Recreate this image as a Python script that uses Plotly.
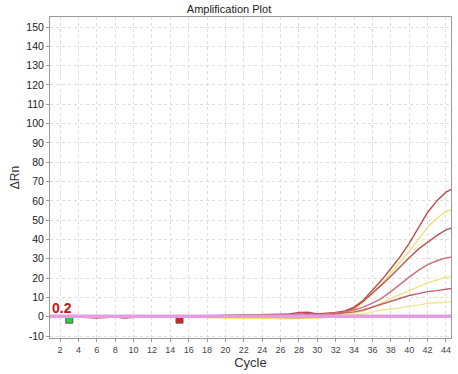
import plotly.graph_objects as go

cycles = list(range(1, 46))

curve_a = [0.3, 0.2, 0.1, 0.0, -0.2, -0.5, -0.3, -0.1, -0.4, -0.2, 0.0, 0.1, 0.2, 0.1, 0.0,
           0.2, 0.3, 0.4, 0.5, 0.6, 0.8, 1.0, 1.2, 1.3, 1.2, 1.3, 1.5, 2.2, 2.4, 1.5,
           1.8, 2.2, 3.0, 5.0, 8.5, 13.5, 19.0, 25.0, 31.0, 38.0, 46.0, 54.0, 60.0, 64.5, 67.0]
curve_b = [0.1, 0.0, -0.1, 0.0, 0.1, -0.2, 0.0, 0.2, 0.0, -0.1, 0.0, 0.0, 0.1, 0.0, -0.1,
           0.0, -0.2, -0.3, -0.2, -0.4, -0.5, -0.6, -0.8, -0.9, -1.0, -0.9, -1.0, -0.8, -0.9, -0.7,
           -0.4, 0.3, 2.0, 4.0, 7.5, 12.0, 17.0, 22.5, 28.0, 34.0, 40.0, 46.5, 51.0, 54.5, 56.0]
curve_c = [0.0, 0.1, 0.0, -0.1, -0.3, -0.7, -0.4, -0.2, -0.6, -0.3, 0.0, 0.1, 0.0, 0.2, 0.1,
           0.3, 0.4, 0.5, 0.6, 0.7, 0.9, 1.1, 1.0, 0.9, 0.8, 1.0, 1.2, 1.4, 1.6, 1.2,
           1.5, 1.9, 2.5, 4.5, 8.0, 12.0, 16.5, 21.0, 26.0, 30.5, 35.0, 38.5, 42.0, 45.0, 46.5]
curve_d = [0.2, 0.1, 0.0, 0.0, -0.1, -0.3, -0.2, 0.0, -0.2, -0.1, 0.0, 0.1, 0.1, 0.0, 0.1,
           0.2, 0.2, 0.3, 0.3, 0.2, 0.4, 0.5, 0.4, 0.3, 0.4, 0.6, 0.8, 0.9, 1.0, 1.0,
           1.5, 2.0, 2.5, 3.5, 5.0, 7.0, 9.5, 13.0, 17.0, 20.5, 24.0, 27.0, 29.0, 30.5, 31.0]
curve_e = [0.0, -0.1, 0.0, 0.1, 0.0, -0.2, -0.1, 0.0, -0.1, 0.0, 0.0, -0.1, 0.0, 0.0, -0.2,
           -0.3, -0.4, -0.3, -0.5, -0.4, -0.6, -0.5, -0.7, -0.8, -0.7, -0.8, -0.9, -0.7, -0.6, -0.5,
           -0.3, 0.2, 1.0, 2.0, 3.0, 5.0, 7.0, 9.5, 11.5, 13.5, 15.5, 17.5, 19.0, 20.5, 21.0]
curve_f = [0.1, 0.0, 0.1, 0.0, -0.2, -0.4, -0.2, -0.1, -0.5, -0.3, -0.1, 0.0, 0.1, 0.0, 0.0,
           0.1, 0.2, 0.1, 0.0, -0.1, -0.2, -0.3, -0.2, -0.4, -0.5, -0.4, -0.6, -0.5, -0.3, 0.2,
           0.8, 1.4, 2.0, 2.5, 3.5, 5.0, 6.5, 8.0, 9.5, 11.0, 12.0, 13.0, 13.5, 14.3, 15.0]
curve_g = [0.0, 0.0, -0.1, 0.0, 0.0, -0.1, 0.0, -0.2, -0.1, 0.0, 0.0, 0.0, -0.1, -0.2, -0.1,
           -0.3, -0.2, -0.4, -0.3, -0.5, -0.4, -0.6, -0.5, -0.6, -0.7, -0.6, -0.5, -0.6, -0.4, -0.5,
           -0.3, -0.1, 0.5, 1.0, 1.5, 2.5, 3.5, 4.0, 4.5, 5.5, 6.0, 7.0, 7.2, 7.5, 7.8]

series = [
    ("A", curve_a, "#bd4c46"),
    ("B", curve_b, "#ece27a"),
    ("C", curve_c, "#bb5654"),
    ("D", curve_d, "#c8707a"),
    ("E", curve_e, "#eee27e"),
    ("F", curve_f, "#c45e66"),
    ("G", curve_g, "#f1e68c"),
]

threshold = 0.2
baseline_start = 3
baseline_end = 15
marker_y = -1.5

x_ticks = list(range(2, 45, 2))
y_ticks = list(range(-10, 151, 10))

fig = go.Figure()
for name, vals, color in series:
    fig.add_trace(go.Scatter(x=cycles, y=vals, mode="lines", name=name,
                             line=dict(color=color, width=1.4), showlegend=False))

fig.add_shape(type="line", xref="paper", x0=0, x1=1, yref="y", y0=threshold, y1=threshold,
              line=dict(color="#e49ee0", width=3.5))

fig.add_trace(go.Scatter(x=[baseline_start], y=[marker_y], mode="markers", showlegend=False,
                         marker=dict(symbol="square", size=7, color="#33cc44",
                                     line=dict(color="#555555", width=1))))
fig.add_trace(go.Scatter(x=[baseline_end], y=[marker_y], mode="markers", showlegend=False,
                         marker=dict(symbol="square", size=7, color="#dd2222",
                                     line=dict(color="#555555", width=1))))

fig.add_annotation(xref="paper", x=0.0, yref="y", y=threshold, text="<b>0.2</b>",
                   showarrow=False, xanchor="left", yanchor="bottom", yshift=-2,
                   font=dict(color="#cc1111", size=14, family="Liberation Sans, Arial"))

fig.update_layout(
    width=458, height=374,
    margin=dict(l=50, r=7, t=17, b=36, autoexpand=False),
    paper_bgcolor="white", plot_bgcolor="white",
    title=dict(text="Amplification Plot", x=0.5, xanchor="center", y=0.975, yanchor="middle",
               font=dict(size=11, color="#222222", family="Liberation Sans, Arial")),
    font=dict(family="Liberation Sans, Arial", color="#333333"),
)
fig.update_xaxes(range=[0.9, 44.55], tickvals=x_ticks, ticktext=[str(t) for t in x_ticks],
                 tickfont=dict(size=9, color="#444444"), automargin=False,
                 showgrid=True, gridcolor="#dddddd", griddash="dot", gridwidth=1,
                 showline=True, linecolor="#9a9a9a", mirror=True, linewidth=1,
                 ticks="outside", ticklen=3, tickcolor="#9a9a9a", zeroline=False,
                 title=dict(text="Cycle", font=dict(size=13, color="#333333"), standoff=4))
fig.update_yaxes(range=[-11, 155.2], tickvals=y_ticks, ticktext=[str(t) for t in y_ticks],
                 tickfont=dict(size=10.5, color="#222222"), automargin=False,
                 showgrid=True, gridcolor="#dddddd", griddash="dot", gridwidth=1,
                 showline=True, linecolor="#9a9a9a", mirror=True, linewidth=1,
                 ticks="outside", ticklen=3, tickcolor="#9a9a9a", zeroline=False,
                 title=dict(text="ΔRn", font=dict(size=12, color="#333333"), standoff=4))

fig.write_html("out.html", config={"displayModeBar": False},
               post_script="document.body.style.margin='0';document.body.style.overflow='hidden';")
